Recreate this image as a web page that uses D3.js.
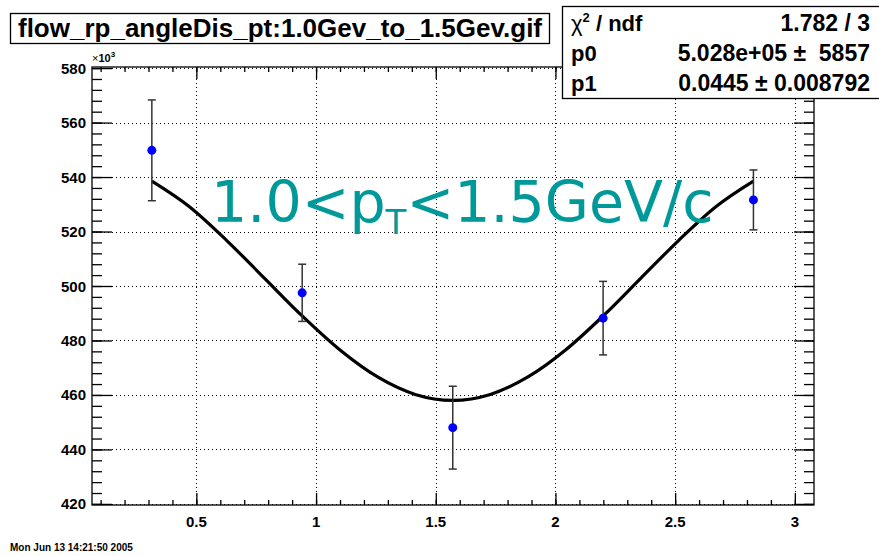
<!DOCTYPE html>
<html>
<head>
<meta charset="utf-8">
<script src="https://d3js.org/d3.v7.min.js"></script>
<style>
  body { margin: 0; background: #fff; }
  text { font-family: "Liberation Sans", Arial, sans-serif; font-weight: bold; }
</style>
</head>
<body>
<svg width="879" height="556"></svg>
<script>
  // measured points (phi bin centres) with errors, y in units of 10^3
  var phi = [0.314, 0.942, 1.571, 2.199, 2.827];
  var counts = [549.8, 497.5, 448.0, 488.2, 531.6];
  var errs = [18.5, 10.5, 15.2, 13.5, 11.0];

  // fit curve
  var fitX = [0.314, 0.471, 0.628, 0.785, 0.942, 1.100, 1.257, 1.414, 1.571,
              1.728, 1.885, 2.042, 2.199, 2.356, 2.513, 2.670, 2.827];
  var fitY = [538.5, 529.1, 516.6, 502.8, 489.0, 476.5, 466.6, 460.2, 458.0,
              460.2, 466.6, 476.5, 489.0, 502.8, 516.6, 529.1, 538.5];

  var xTicks = [0.5, 1, 1.5, 2, 2.5, 3];
  var yTicks = [420, 440, 460, 480, 500, 520, 540, 560, 580];

  var statNames = ["\u03C7\u00B2 / ndf", "p0", "p1"];
  var statValues = ["1.782 / 3", "5.028e+05 \u00B1  5857", "0.0445 \u00B1 0.008792"];

  var svg = d3.select("svg");
  var fL = 92, fR = 814, fT = 67, fB = 505;

  var x = d3.scaleLinear().domain([0.064, 3.080]).range([fL, fR]);
  var y = d3.scaleLinear().domain([419.6, 580.4]).range([fB, fT]);

  // grid
  var grid = svg.append("g").attr("stroke", "#000").attr("stroke-width", 1)
    .attr("stroke-dasharray", "1,3");
  grid.selectAll(".gx").data(xTicks).enter().append("line")
    .attr("x1", d => Math.round(x(d)) + 0.5).attr("x2", d => Math.round(x(d)) + 0.5)
    .attr("y1", fT).attr("y2", fB);
  grid.selectAll(".gy").data(yTicks).enter().append("line")
    .attr("x1", fL).attr("x2", fR)
    .attr("y1", d => Math.round(y(d)) + 0.5).attr("y2", d => Math.round(y(d)) + 0.5);

  // axes: ticks on all four sides, pointing inward
  var xMinor = d3.range(1, 31).map(d => d / 10).filter(d => d > 0.064 && d < 3.08);
  var yMinor = d3.range(420, 581, 4);

  svg.append("g").attr("transform", `translate(0,${fB})`)
    .call(d3.axisTop(x).tickValues(xMinor).tickSize(5).tickFormat(""));
  svg.append("g").attr("transform", `translate(0,${fB})`)
    .call(d3.axisTop(x).tickValues(xTicks).tickSize(12).tickFormat(""));
  svg.append("g").attr("transform", `translate(0,${fT})`)
    .call(d3.axisBottom(x).tickValues(xMinor).tickSize(5).tickFormat(""));
  svg.append("g").attr("transform", `translate(0,${fT})`)
    .call(d3.axisBottom(x).tickValues(xTicks).tickSize(12).tickFormat(""));

  svg.append("g").attr("transform", `translate(${fL},0)`)
    .call(d3.axisRight(y).tickValues(yMinor).tickSize(10).tickFormat(""));
  svg.append("g").attr("transform", `translate(${fL},0)`)
    .call(d3.axisRight(y).tickValues(yTicks).tickSize(20).tickFormat(""));
  svg.append("g").attr("transform", `translate(${fR},0)`)
    .call(d3.axisLeft(y).tickValues(yMinor).tickSize(10).tickFormat(""));
  svg.append("g").attr("transform", `translate(${fR},0)`)
    .call(d3.axisLeft(y).tickValues(yTicks).tickSize(20).tickFormat(""));

  svg.selectAll(".domain").remove();
  svg.selectAll(".tick line").attr("stroke", "#000").attr("stroke-width", 1.3);

  svg.append("rect").attr("x", fL).attr("y", fT)
    .attr("width", fR - fL).attr("height", fB - fT)
    .attr("fill", "none").attr("stroke", "#000").attr("stroke-width", 1.3);

  // tick labels
  svg.selectAll(".xl").data(xTicks).enter().append("text")
    .attr("x", d => x(d)).attr("y", fB + 22)
    .attr("text-anchor", "middle").attr("font-size", 15).text(d => d);
  svg.selectAll(".yl").data(yTicks).enter().append("text")
    .attr("x", fL - 6).attr("y", d => y(d) + 5.5)
    .attr("text-anchor", "end").attr("font-size", 15).text(d => d);
  var mult = svg.append("text").attr("x", fL).attr("y", fT - 5).attr("font-size", 11);
  mult.append("tspan").attr("font-weight", "normal").text("\u00D7");
  mult.append("tspan").text("10");
  mult.append("tspan").attr("font-size", 8).attr("dy", -5).text("3");

  // fit curve
  var line = d3.line().x(d => x(d[0])).y(d => y(d[1])).curve(d3.curveCardinal);
  svg.append("path").datum(fitX.map((d, i) => [d, fitY[i]]))
    .attr("d", line).attr("fill", "none").attr("stroke", "#000").attr("stroke-width", 3.2);

  // error bars and markers
  var pts = svg.append("g");
  phi.forEach(function(p, i) {
    var cx = x(p);
    pts.append("line").attr("x1", cx).attr("x2", cx)
      .attr("y1", y(counts[i] + errs[i])).attr("y2", y(counts[i] - errs[i]))
      .attr("stroke", "#333").attr("stroke-width", 1.5);
    [counts[i] + errs[i], counts[i] - errs[i]].forEach(function(v) {
      pts.append("line").attr("x1", cx - 4).attr("x2", cx + 4)
        .attr("y1", y(v)).attr("y2", y(v))
        .attr("stroke", "#333").attr("stroke-width", 1.5);
    });
    pts.append("circle").attr("cx", cx).attr("cy", y(counts[i])).attr("r", 4.5)
      .attr("fill", "#0000ff");
  });

  // big label
  var lab = svg.append("text").attr("x", 211).attr("y", 222)
    .style("font-family", "'DejaVu Sans', Verdana, sans-serif")
    .style("font-weight", "normal").attr("font-size", 57).attr("fill", "#009999");
  lab.append("tspan").text("1.0<p");
  lab.append("tspan").attr("font-size", 34).attr("dy", 12).text("T");
  lab.append("tspan").attr("dy", -12).text("<1.5GeV/c");

  // title box
  svg.append("rect").attr("x", 10.5).attr("y", 13.5).attr("width", 539).attr("height", 30)
    .attr("fill", "#fff").attr("stroke", "#000").attr("stroke-width", 1.3);
  svg.append("text").attr("x", 280).attr("y", 37).attr("text-anchor", "middle")
    .attr("font-size", 26).text("flow_rp_angleDis_pt:1.0Gev_to_1.5Gev.gif");

  // stats box
  svg.append("rect").attr("x", 562.5).attr("y", 6.5).attr("width", 320).attr("height", 92)
    .attr("fill", "#fff").attr("stroke", "#000").attr("stroke-width", 1.3);
  statNames.forEach(function(n, i) {
    var t = svg.append("text").attr("x", 571).attr("y", 31 + i * 30).attr("font-size", 22);
    if (i === 0) {
      t.append("tspan").attr("font-weight", "normal").text("\u03C7");
      t.append("tspan").attr("font-size", 13).attr("dy", -9).text("2");
      t.append("tspan").attr("dy", 9).text(" / ndf");
    } else {
      t.text(n);
    }
    svg.append("text").attr("x", 870).attr("y", 31 + i * 30).attr("text-anchor", "end")
      .attr("font-size", 23).attr("xml:space", "preserve").text(statValues[i]);
  });

  // date stamp
  svg.append("text").attr("x", 10).attr("y", 551).attr("font-size", 10)
    .text("Mon Jun 13 14:21:50 2005");
</script>
</body>
</html>
